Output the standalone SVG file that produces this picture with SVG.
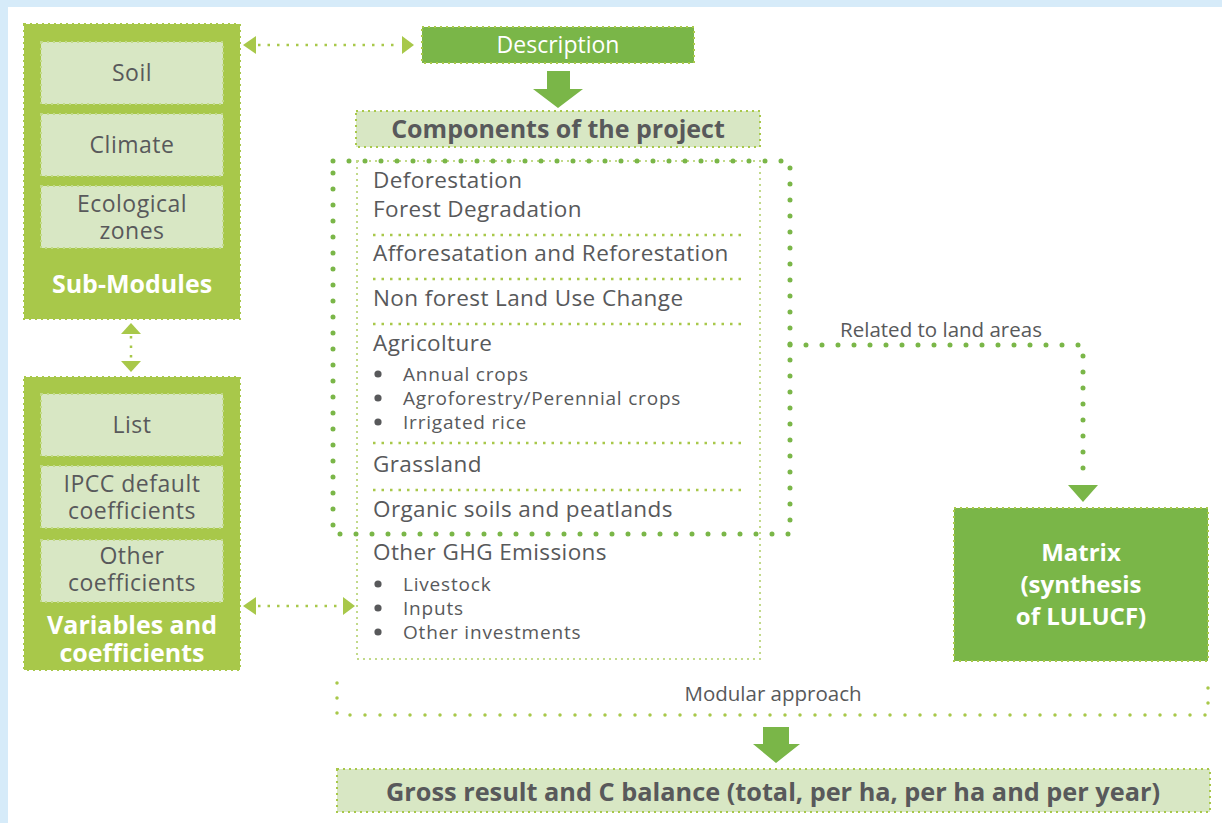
<svg xmlns="http://www.w3.org/2000/svg" width="1222" height="823" viewBox="0 0 1222 823">
<style>
text{font-family:"Open Sans","Noto Sans","Liberation Sans",sans-serif;}
.dark{fill:#58595b;}
.wh{fill:#ffffff;}
.lime{fill:#a8c84a;}
.green{fill:#7ab648;}
.pale{fill:#d8e7c4;}
.bd{stroke:#a8c84a;stroke-width:2;stroke-dasharray:2 4;fill:none;}
.bdin{stroke:#c2da8a;stroke-width:2;stroke-dasharray:2 4;fill:none;}
.sep{stroke:#a8c84a;stroke-width:2.5;stroke-dasharray:2.5 6;fill:none;}
.big{stroke:#7ab648;stroke-width:5;stroke-linecap:round;stroke-dasharray:0 16;fill:none;}
.conn{stroke:#a8c84a;stroke-width:2.5;stroke-dasharray:2.5 7;fill:none;}
.conn2{stroke:#a8c84a;stroke-width:3.5;stroke-linecap:round;stroke-dasharray:0 15;fill:none;}
.t21{font-size:22.5px;letter-spacing:0.4px;}
.tb{font-size:23px;letter-spacing:0.5px;}
.t18{font-size:19px;letter-spacing:0.8px;}
.t17{font-size:20.5px;}
.hb{font-size:25px;font-weight:bold;}
</style>
<rect width="1222" height="823" fill="#d6ebf9"/>
<rect x="8" y="7" width="1214" height="816" fill="#ffffff"/>

<g id="connectors">
  <line x1="258" y1="45" x2="400" y2="45" class="conn"/>
  <polygon points="243,45 256,36 256,54" class="lime"/>
  <polygon points="414,45 402,36 402,54" class="lime"/>
  <line x1="131" y1="336" x2="131" y2="358" class="conn"/>
  <polygon points="131,323 121,334 141,334" class="lime"/>
  <polygon points="131,372 121,361 141,361" class="lime"/>
  <line x1="258" y1="606" x2="342" y2="606" class="conn"/>
  <polygon points="243,606 256,597 256,615" class="lime"/>
  <polygon points="355,606 343,597 343,615" class="lime"/>
  <polygon points="547,71 570,71 570,89 583,89 558,108 533,89 547,89" class="green"/>
  <polyline points="790,345 1083,345 1083,478" class="big"/>
  <polygon points="1068,485 1098,485 1083,502" class="green"/>
  <text x="941" y="337" text-anchor="middle" class="dark t17">Related to land areas</text>
  <polyline points="337,683 337,715 1208,715 1208,676" class="conn2"/>
  <text x="773" y="701" text-anchor="middle" class="dark t17">Modular approach</text>
  <polygon points="763,727 789,727 789,744 800,744 776,763 753,744 763,744" class="green"/>
</g>

<g id="sub-modules">
  <rect x="24" y="24" width="216" height="295" class="lime"/>
  <rect x="24" y="24" width="216" height="295" class="bd"/>
  <rect x="41" y="42" width="182" height="62" class="pale"/>
  <rect x="41" y="42" width="182" height="62" class="bdin"/>
  <text x="132" y="81" text-anchor="middle" class="dark tb">Soil</text>
  <rect x="41" y="114" width="182" height="62" class="pale"/>
  <rect x="41" y="114" width="182" height="62" class="bdin"/>
  <text x="132" y="153" text-anchor="middle" class="dark tb">Climate</text>
  <rect x="41" y="186" width="182" height="62" class="pale"/>
  <rect x="41" y="186" width="182" height="62" class="bdin"/>
  <text x="132" y="212" text-anchor="middle" class="dark tb">Ecological</text>
  <text x="132" y="239" text-anchor="middle" class="dark tb">zones</text>
  <text x="132" y="293" text-anchor="middle" class="wh hb">Sub-Modules</text>
</g>

<g id="variables">
  <rect x="24" y="377" width="216" height="293" class="lime"/>
  <rect x="24" y="377" width="216" height="293" class="bd"/>
  <rect x="41" y="394" width="182" height="62" class="pale"/>
  <rect x="41" y="394" width="182" height="62" class="bdin"/>
  <text x="132" y="433" text-anchor="middle" class="dark tb">List</text>
  <rect x="41" y="466" width="182" height="62" class="pale"/>
  <rect x="41" y="466" width="182" height="62" class="bdin"/>
  <text x="132" y="492" text-anchor="middle" class="dark tb">IPCC default</text>
  <text x="132" y="519" text-anchor="middle" class="dark tb">coefficients</text>
  <rect x="41" y="540" width="182" height="62" class="pale"/>
  <rect x="41" y="540" width="182" height="62" class="bdin"/>
  <text x="132" y="564" text-anchor="middle" class="dark tb">Other</text>
  <text x="132" y="591" text-anchor="middle" class="dark tb">coefficients</text>
  <text x="132" y="634" text-anchor="middle" class="wh hb">Variables and</text>
  <text x="132" y="662" text-anchor="middle" class="wh hb">coefficients</text>
</g>

<g id="description">
  <rect x="422" y="27" width="272" height="36" class="green"/>
  <rect x="422" y="27" width="272" height="36" class="bd"/>
  <text x="558" y="53" text-anchor="middle" class="wh" font-size="23">Description</text>
</g>

<g id="components">
  <rect x="356" y="111" width="404" height="36" class="pale"/>
  <rect x="356" y="111" width="404" height="36" class="bd"/>
  <text x="558" y="138" text-anchor="middle" class="dark hb">Components of the project</text>
</g>

<g id="components-list">
  <rect x="357" y="161" width="403" height="498" class="bdin" stroke="#a8c84a"/>
  <rect x="333" y="161" width="457" height="373" class="big"/>
  <line x1="373" y1="235" x2="744" y2="235" class="sep"/>
  <line x1="373" y1="279" x2="744" y2="279" class="sep"/>
  <line x1="373" y1="324" x2="744" y2="324" class="sep"/>
  <line x1="373" y1="443" x2="744" y2="443" class="sep"/>
  <line x1="373" y1="490" x2="744" y2="490" class="sep"/>
  <g class="dark t21">
    <text x="373" y="188">Deforestation</text>
    <text x="373" y="217">Forest Degradation</text>
    <text x="373" y="261">Afforesatation and Reforestation</text>
    <text x="373" y="306">Non forest Land Use Change</text>
    <text x="373" y="351">Agricolture</text>
    <text x="373" y="472">Grassland</text>
    <text x="373" y="517">Organic soils and peatlands</text>
    <text x="373" y="560">Other GHG Emissions</text>
  </g>
  <g class="dark">
    <circle cx="378" cy="374" r="3.6"/>
    <circle cx="378" cy="398" r="3.6"/>
    <circle cx="378" cy="422" r="3.6"/>
    <circle cx="378" cy="584" r="3.6"/>
    <circle cx="378" cy="608" r="3.6"/>
    <circle cx="378" cy="632" r="3.6"/>
  </g>
  <g class="dark t18">
    <text x="403" y="381">Annual crops</text>
    <text x="403" y="405">Agroforestry/Perennial crops</text>
    <text x="403" y="429">Irrigated rice</text>
    <text x="403" y="591">Livestock</text>
    <text x="403" y="615">Inputs</text>
    <text x="403" y="639">Other investments</text>
  </g>
</g>

<g id="matrix">
  <rect x="954" y="508" width="254" height="153" class="green"/>
  <rect x="954" y="508" width="254" height="153" class="bd"/>
  <text x="1081" y="561" text-anchor="middle" class="wh" font-size="24" font-weight="bold">Matrix</text>
  <text x="1081" y="593" text-anchor="middle" class="wh" font-size="24" font-weight="bold">(synthesis</text>
  <text x="1081" y="625" text-anchor="middle" class="wh" font-size="24" font-weight="bold">of LULUCF)</text>
</g>

<g id="gross-result">
  <rect x="337" y="769" width="873" height="43" class="pale"/>
  <rect x="337" y="769" width="873" height="43" class="bd"/>
  <text x="773" y="801" text-anchor="middle" class="dark" font-size="25.3" font-weight="bold">Gross result and C balance (total, per ha, per ha and per year)</text>
</g>
</svg>
